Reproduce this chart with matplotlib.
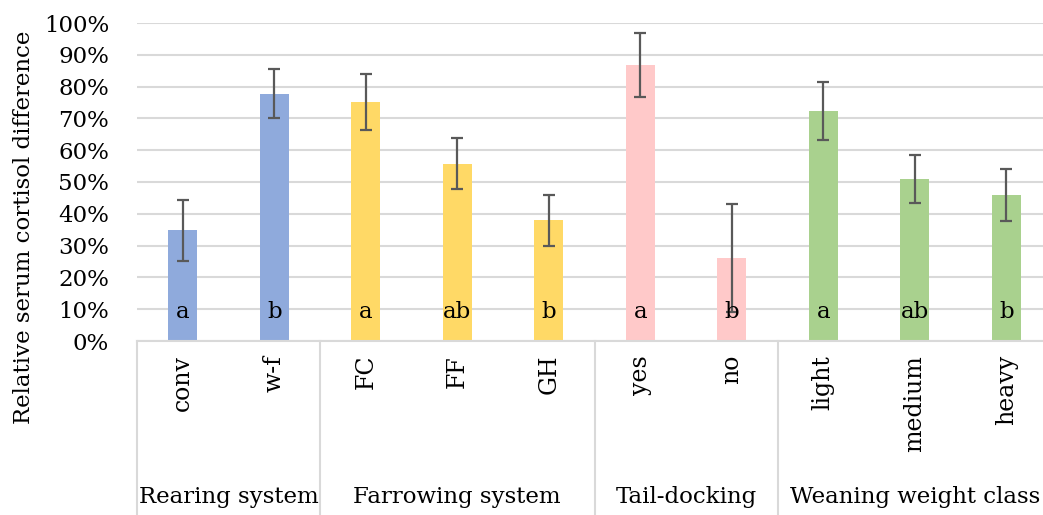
import matplotlib
import matplotlib.pyplot as plt
from matplotlib.ticker import PercentFormatter

matplotlib.use("Agg")

categories = ["conv", "w-f", "FC", "FF", "GH", "yes", "no", "light", "medium", "heavy"]
groups = ["Rearing system", "Farrowing system", "Tail-docking", "Weaning weight class"]
group_sizes = [2, 3, 2, 3]
group_colors = ["#8FAADC", "#FFD966", "#FFC9C9", "#A9D18E"]
values = [0.348, 0.778, 0.752, 0.558, 0.380, 0.868, 0.261, 0.723, 0.509, 0.459]
errors = [0.095, 0.077, 0.088, 0.080, 0.080, 0.100, 0.170, 0.092, 0.075, 0.082]
letters = ["a", "b", "a", "ab", "b", "a", "b", "a", "ab", "b"]

plt.rcParams["font.family"] = ["DejaVu Serif"]
plt.rcParams["font.size"] = 16.5

colors = []
for c, n in zip(group_colors, group_sizes):
    colors += [c] * n

fig = plt.figure(figsize=(10.43, 5.15), dpi=100)
ax = fig.add_axes([137 / 1043, 174 / 515, 915 / 1043, 318 / 515])

x = list(range(len(categories)))
ax.bar(x, values, width=0.32, color=colors, zorder=2)
ax.errorbar(x, values, yerr=errors, fmt="none", ecolor="#595959",
            elinewidth=1.6, capsize=4.5, capthick=1.6, zorder=3)
for xi, lab in zip(x, letters):
    ax.text(xi, 0.09, lab, ha="center", va="center", zorder=4)

ax.set_xlim(-0.5, len(categories) - 0.5)
ax.set_ylim(0, 1.0)
ax.set_yticks([i / 10 for i in range(11)])
ax.yaxis.set_major_formatter(PercentFormatter(1.0, decimals=0))
ax.grid(axis="y", color="#D9D9D9", lw=1.5, zorder=0)
for s in ["top", "right", "left"]:
    ax.spines[s].set_visible(False)
ax.spines["bottom"].set_color("#D9D9D9")
ax.spines["bottom"].set_linewidth(1.5)
ax.tick_params(axis="y", length=0, pad=20)
ax.set_xticks(x)
ax.set_xticklabels(categories, rotation=90, va="top", fontsize=17)
ax.tick_params(axis="x", length=0, pad=10)
fig.text(24 / 1043, 1 - 227 / 515, "Relative serum cortisol difference",
         rotation=90, ha="center", va="center")

# group separators and labels below the axis
tr = ax.get_xaxis_transform()
bounds = [-0.5]
for n in group_sizes:
    bounds.append(bounds[-1] + n)
for b in bounds:
    ax.plot([b, b], [0, -0.56], transform=tr, color="#D9D9D9", lw=1.5, clip_on=False)
for g, lo, hi in zip(groups, bounds[:-1], bounds[1:]):
    ax.text((lo + hi) / 2, -0.49, g, transform=tr, ha="center", va="center")

fig.savefig("out.png", dpi=100)
